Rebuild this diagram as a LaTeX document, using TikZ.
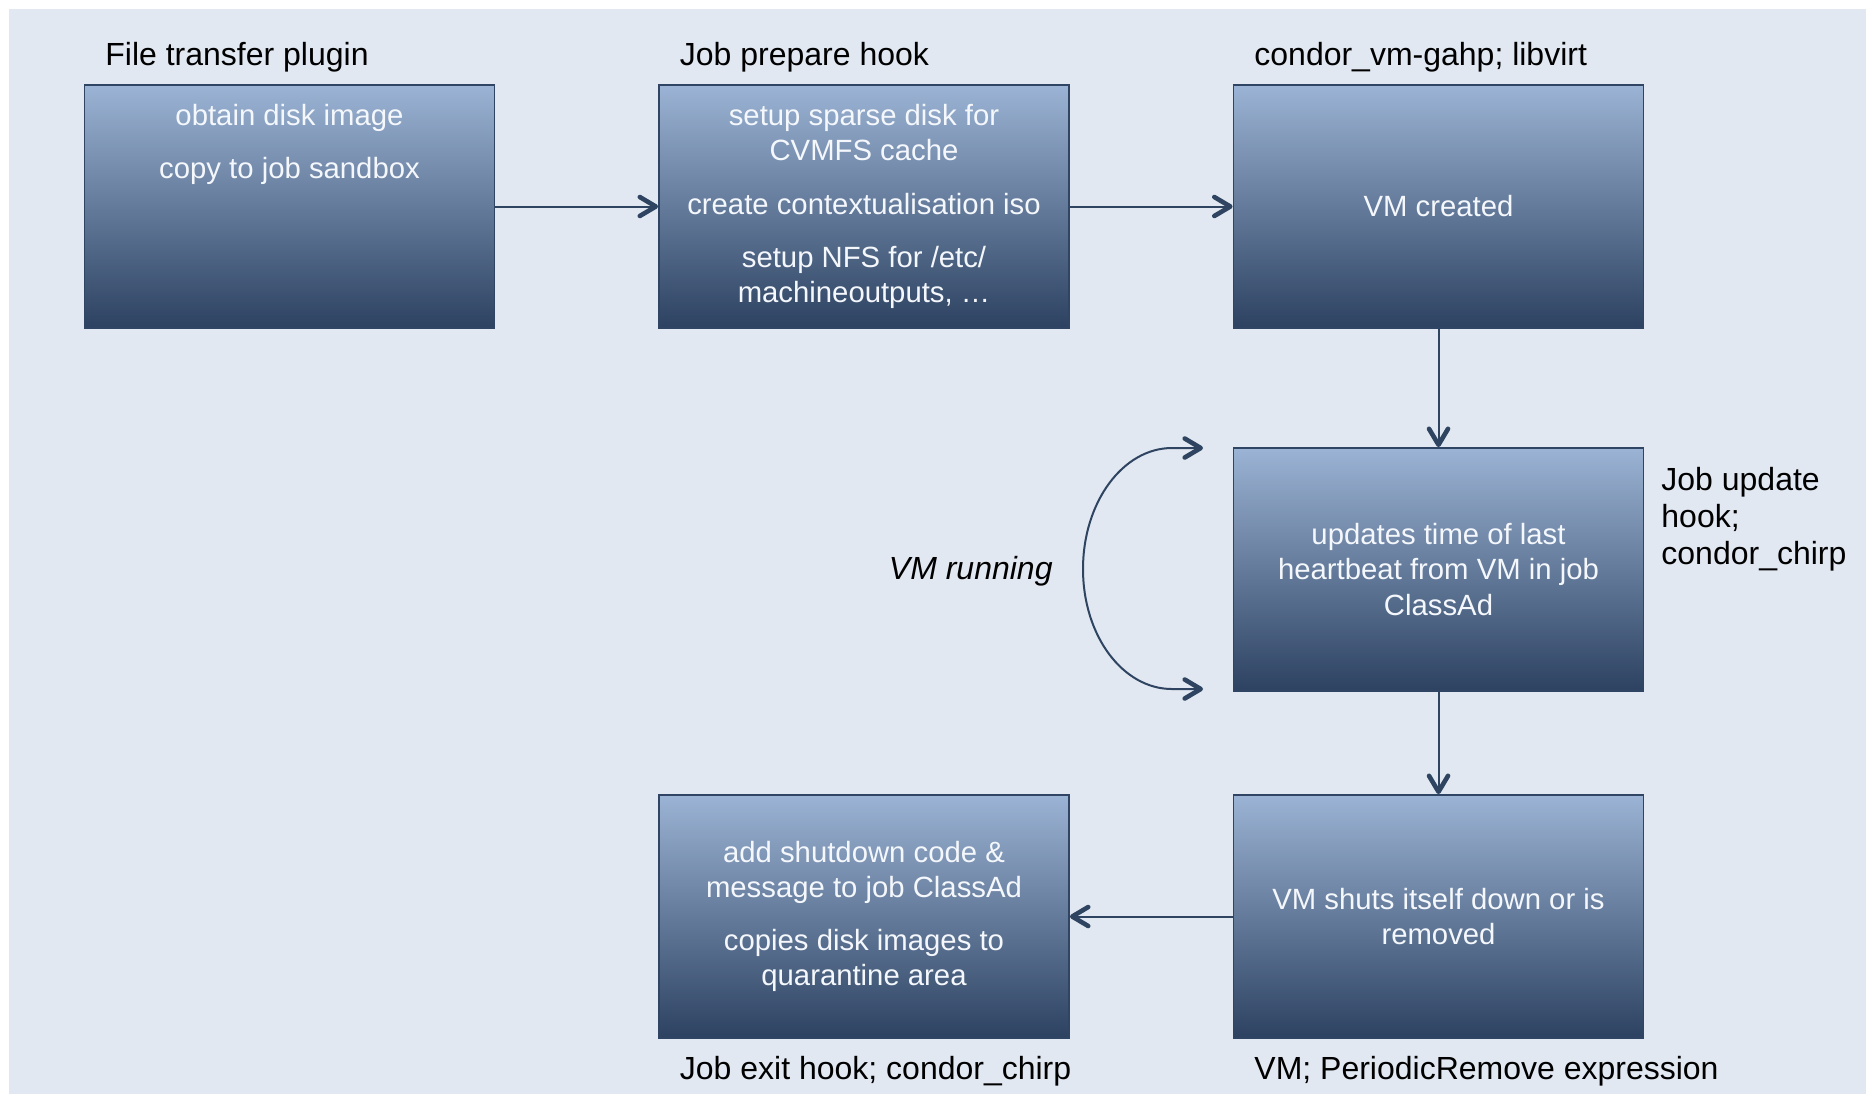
\documentclass[tikz,border=0pt]{standalone}
\usepackage{fontspec}
\setmainfont{Liberation Sans}
\usetikzlibrary{arrows.meta}

\definecolor{canvas}{HTML}{E1E8F2}
\definecolor{boxtop}{HTML}{9BB3D4}
\definecolor{boxbot}{HTML}{2D4261}
\definecolor{boxedge}{HTML}{2F4563}
\definecolor{linkcol}{HTML}{2E4461}
\definecolor{boxtext}{HTML}{F4F7FB}

\tikzset{
  stepbox/.style={draw=boxedge, line width=0.9pt, top color=boxtop, bottom color=boxbot,
    minimum width=205pt, minimum height=121.5pt, inner sep=0pt,
    text=boxtext, align=center, font=\fontsize{14.65}{17.6}\selectfont},
  boxlines/.style={text=boxtext, align=center, inner sep=0pt,
    font=\fontsize{14.65}{17.6}\selectfont},
  caption/.style={text=black, inner sep=0pt, align=left,
    font=\fontsize{16}{18.5}\selectfont},
  conn/.style={draw=linkcol, line width=1pt,
    -{Straight Barb[length=8pt,width=9.5pt,line width=2.3pt,round]}},
  loopconn/.style={draw=linkcol, line width=1pt,
    {Straight Barb[length=8pt,width=9.5pt,line width=2.3pt,round]}-{Straight Barb[length=8pt,width=9.5pt,line width=2.3pt,round]}}
}

\begin{document}
\begin{tikzpicture}[x=0.5pt,y=-0.5pt]
  \useasboundingbox (0,0) rectangle (1866,1094);
  \fill[canvas] (9,9) rectangle (1866,1094);

  % process boxes
  \node[stepbox] (b1) at (289.5,206.5) {};
  \node[boxlines, anchor=north] (b1txt) at (289.5,103.5)
    {obtain disk image\\[9pt]copy to job sandbox};
  \node[stepbox] (b2) at (864,206.5)
    {setup sparse disk for\\CVMFS cache\\[9pt]create contextualisation iso\\[9pt]setup NFS for /etc/\\machineoutputs, \dots};
  \node[stepbox] (b3) at (1438.5,206.5) {VM created};
  \node[stepbox] (b4) at (1438.5,569.5)
    {updates time of last\\heartbeat from VM in job\\ClassAd};
  \node[stepbox] (b6) at (1438.5,916.5) {VM shuts itself down or is\\removed};
  \node[stepbox] (b5) at (864,916.5)
    {add shutdown code \&\\message to job ClassAd\\[9pt]copies disk images to\\quarantine area};

  % captions
  \node[caption, anchor=west] (c1) at (105,57.5) {File transfer plugin};
  \node[caption, anchor=west] (c2) at (679.5,57.5) {Job prepare hook};
  \node[caption, anchor=west] (c3) at (1254,57.5) {condor\_vm-gahp; libvirt};
  \node[caption, anchor=west] (c4) at (1661,519) {Job update\\hook;\\condor\_chirp};
  \node[caption, anchor=west] (c5) at (679.5,1071) {Job exit hook; condor\_chirp};
  \node[caption, anchor=west] (c6) at (1254,1071) {VM; PeriodicRemove expression};
  \node[caption, anchor=east, font=\fontsize{16}{18.5}\selectfont\itshape] (c7) at (1053,571) {VM running};

  % connectors
  \draw[conn] (b1.east) -- (b2.west);
  \draw[conn] (b2.east) -- (b3.west);
  \draw[conn] (b3.south) -- (b4.north);
  \draw[conn] (b4.south) -- (b6.north);
  \draw[conn] (b6.west) -- (b5.east);

  % running loop
  \coordinate (loopTop) at (1203,448);
  \coordinate (loopBot) at (1203,689);
  \draw[loopconn] (loopTop) -- (1172,448)
    .. controls (1123,448) and (1083,502) .. (1083,569)
    .. controls (1083,636) and (1123,689) .. (1172,689) -- (loopBot);
\end{tikzpicture}
\end{document}
